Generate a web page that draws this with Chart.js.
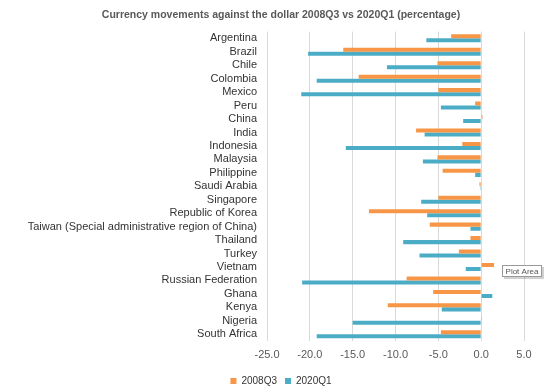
<!DOCTYPE html>
<html>
<head>
<meta charset="utf-8">
<script src="https://cdn.jsdelivr.net/npm/chart.js@4"></script>
<style>
  html, body { margin: 0; padding: 0; background: #ffffff; }
  #wrap { width: 550px; height: 392px; position: relative; }
</style>
</head>
<body>
<div id="wrap"><canvas id="c" width="550" height="392"></canvas></div>
<script>
const categories = ["Argentina", "Brazil", "Chile", "Colombia", "Mexico", "Peru", "China", "India",
  "Indonesia", "Malaysia", "Philippine", "Saudi Arabia", "Singapore", "Republic of Korea",
  "Taiwan (Special administrative region of China)", "Thailand", "Turkey", "Vietnam",
  "Russian Federation", "Ghana", "Kenya", "Nigeria", "South Africa"];

const series2008Q3 = [-3.5, -16.1, -5.1, -14.3, -5.0, -0.7, 0.15, -7.6,
  -2.2, -5.1, -4.5, -0.2, -5.0, -13.1,
  -6.0, -1.25, -2.6, 1.5,
  -8.7, -5.6, -10.9, 0.1, -4.7];

const series2020Q1 = [-6.4, -20.2, -11.0, -19.2, -21.0, -4.7, -2.1, -6.6,
  -15.8, -6.8, -0.7, -0.1, -7.0, -6.3,
  -1.25, -9.1, -7.2, -1.8,
  -20.9, 1.3, -4.6, -15.0, -19.2];

const xTicks = [-25, -20, -15, -10, -5, 0, 5];

const plotAreaTip = {
  id: 'plotAreaTip',
  afterDraw(chart) {
    const ctx = chart.ctx;
    const x = 502, y = 265, w = 40, h = 12;
    ctx.save();
    ctx.fillStyle = 'rgba(0,0,0,0.18)';
    ctx.fillRect(x + 2, y + 2, w, h);
    ctx.fillStyle = '#ffffff';
    ctx.fillRect(x, y, w, h);
    ctx.strokeStyle = '#9a9a9a';
    ctx.lineWidth = 1;
    ctx.strokeRect(x + 0.5, y + 0.5, w - 1, h - 1);
    ctx.fillStyle = '#555555';
    ctx.font = '8px "Liberation Sans", Arial, sans-serif';
    ctx.textAlign = 'center';
    ctx.textBaseline = 'middle';
    ctx.fillText('Plot Area', x + w / 2, y + h / 2 + 0.5);
    ctx.restore();
  }
};

new Chart(document.getElementById('c'), {
  type: 'bar',
  data: {
    labels: categories,
    datasets: [
      { label: '2008Q3', data: series2008Q3, backgroundColor: '#F79646', borderWidth: 0,
        categoryPercentage: 0.6, barPercentage: 1.0 },
      { label: '2020Q1', data: series2020Q1, backgroundColor: '#4BACC6', borderWidth: 0,
        categoryPercentage: 0.6, barPercentage: 1.0 }
    ]
  },
  options: {
    indexAxis: 'y',
    responsive: false,
    animation: false,
    devicePixelRatio: 1,
    layout: { padding: { left: 38, right: 26, top: 0, bottom: -4 } },
    scales: {
      x: {
        min: -25, max: 5,
        afterBuildTicks(scale) { scale.ticks = xTicks.map(v => ({ value: v })); },
        afterFit(scale) { scale.height = 27; },
        ticks: {
          callback: (v) => Number(v).toFixed(1),
          color: '#595959',
          font: { family: '"Liberation Sans", Arial, sans-serif', size: 11 },
          padding: 7,
          maxRotation: 0
        },
        grid: { color: '#d9d9d9', drawTicks: false, lineWidth: 1 },
        border: { display: false }
      },
      y: {
        afterFit(scale) { scale.width = 229; },
        afterUpdate(scale) { scale._computeLabelArea = () => undefined; },
        ticks: {
          color: '#333333',
          font: { family: '"Liberation Sans", Arial, sans-serif', size: 11 },
          padding: 10,
          autoSkip: false
        },
        grid: { display: false, drawTicks: false },
        border: { display: false }
      }
    },
    plugins: {
      title: {
        display: true,
        text: 'Currency movements against the dollar 2008Q3 vs 2020Q1 (percentage)',
        color: '#595959',
        font: { family: '"Liberation Sans", Arial, sans-serif', size: 10.5, weight: 'bold' },
        padding: { top: 9, bottom: 10 }
      },
      legend: {
        position: 'bottom',
        align: 'center',
        labels: {
          boxWidth: 6, boxHeight: 6,
          color: '#333333',
          font: { family: '"Liberation Sans", Arial, sans-serif', size: 10 },
          padding: 8
        }
      },
      tooltip: { enabled: false }
    }
  },
  plugins: [plotAreaTip]
});
</script>
</body>
</html>
